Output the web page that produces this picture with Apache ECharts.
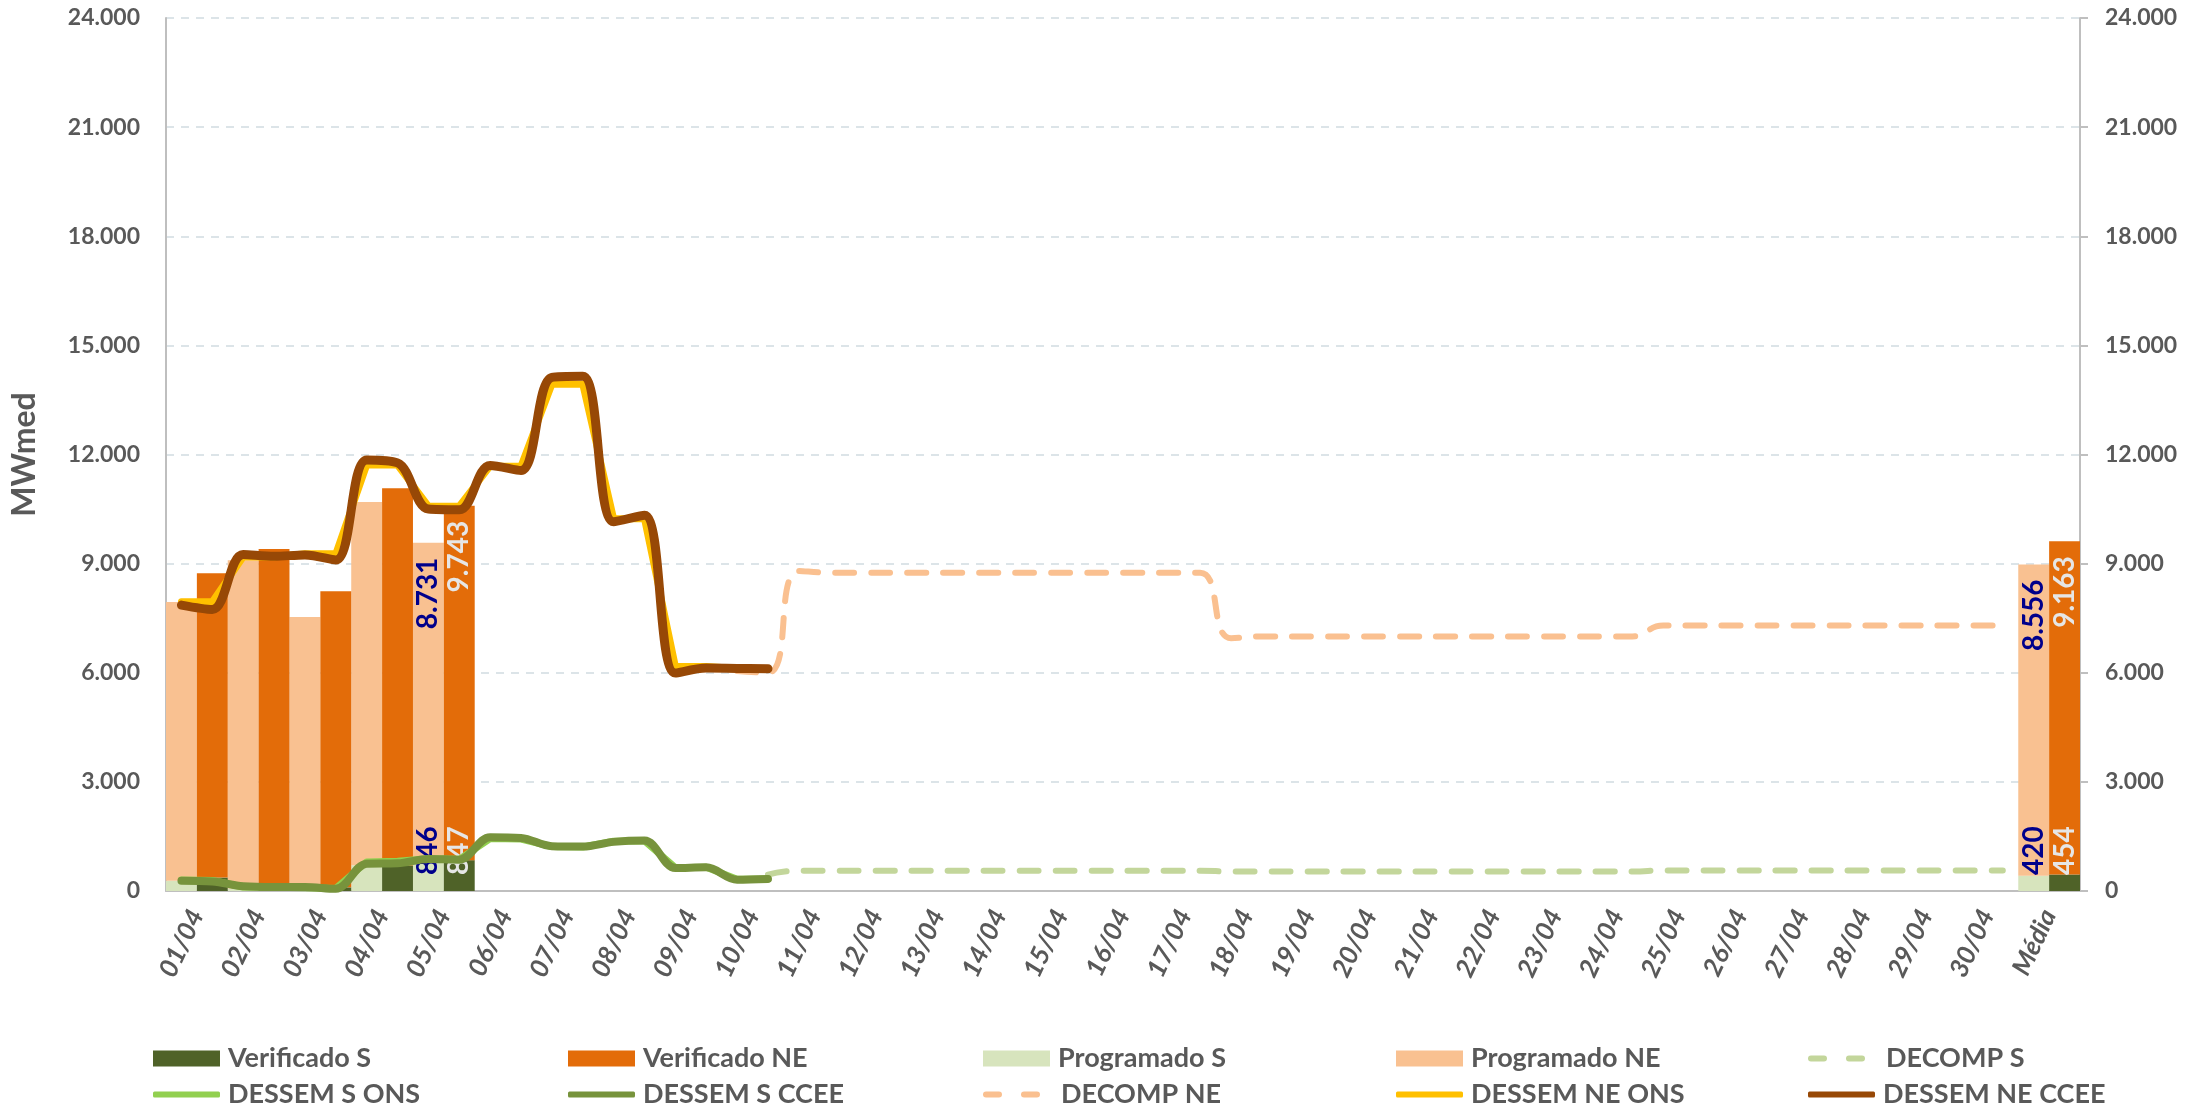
<!DOCTYPE html>
<html>
<head>
<meta charset="utf-8">
<script src="https://cdn.jsdelivr.net/npm/echarts@6/dist/echarts.min.js"></script>
<style>html,body{margin:0;padding:0;background:#fff}#c{width:2204px;height:1108px}</style>
</head>
<body>
<div id="c"></div>
<script>
// ---------- DATA ----------
const categories = ['01/04','02/04','03/04','04/04','05/04','06/04','07/04','08/04','09/04','10/04',
  '11/04','12/04','13/04','14/04','15/04','16/04','17/04','18/04','19/04','20/04',
  '21/04','22/04','23/04','24/04','25/04','26/04','27/04','28/04','29/04','30/04','Média'];

// stacked bars (S at base, NE on top)
const programadoS  = [280, 70, 50, 710, 846, null,null,null,null,null,null,null,null,null,null,null,null,null,null,null,null,null,null,null,null,null,null,null,null,null, 420];
const programadoNE = [7665, 9021, 7483, 9984, 8731, null,null,null,null,null,null,null,null,null,null,null,null,null,null,null,null,null,null,null,null,null,null,null,null,null, 8556];
const verificadoS  = [370, 80, 100, 700, 847, null,null,null,null,null,null,null,null,null,null,null,null,null,null,null,null,null,null,null,null,null,null,null,null,null, 454];
const verificadoNE = [8364, 9322, 8139, 10370, 9743, null,null,null,null,null,null,null,null,null,null,null,null,null,null,null,null,null,null,null,null,null,null,null,null,null, 9163];
const labeledCategories = ['05/04', 'Média'];

// lines: two readings per day (half-day slots), starting on 01/04
const dessemNE_ONS  = [7950,7950, 9180,9180, 9270,9270, 11710,11710, 10580,10580, 11680,11680, 13930,13930, 10235,10235, 6170,6170, 6120,6120];
const dessemNE_CCEE = [7860,7740, 9250,9200, 9240,9100, 11850,11770, 10500,10480, 11700,11560, 14120,14150, 10150,10330, 5990,6130, 6120,6110];
const dessemS_ONS   = [300,290, 110,100, 90,70, 800,820, 890,870, 1440,1430, 1220,1210, 1370,1380, 640,650, 320,330];
const dessemS_CCEE  = [280,260, 130,110, 110,60, 750,760, 880,860, 1480,1460, 1230,1220, 1350,1390, 630,650, 310,330];
// DECOMP lines: half-day slots; DECOMP NE starts on 10/04 (first slot), DECOMP S on 10/04 (second slot)
const decompNE = [6050,6000,
  8800,8750, 8750,8750, 8750,8750, 8750,8750, 8750,8750, 8750,8750, 8750,8750,
  6950,7000, 7000,7000, 7000,7000, 7000,7000, 7000,7000, 7000,7000, 7000,7000,
  7300,7300, 7300,7300, 7300,7300, 7300,7300, 7300,7300, 7300,7300];
const decompS = [450,
  560,560, 560,560, 560,560, 560,560, 560,560, 560,560, 560,560,
  535,535, 535,535, 535,535, 535,535, 535,535, 535,535, 535,535,
  565,565, 565,565, 565,565, 565,565, 565,565, 565,565];
const decompNEStartSlot = 18;
const decompSStartSlot = 19;

// ---------- HELPERS ----------
const halfSlots = categories.flatMap(c => [c + ' a', c + ' b']);
function pad(arr, start) {
  const out = new Array(halfSlots.length).fill(null);
  arr.forEach((v, i) => { out[start + i] = v; });
  return out;
}
function fmt(v) { return String(Math.round(v)).replace(/\B(?=(\d{3})+(?!\d))/g, '.'); }

const FONT = 'Lato, "Open Sans", sans-serif';
const GRAY = '#595959';
const C = {
  verS: '#4F6228', verNE: '#E36C09', progS: '#D7E4BD', progNE: '#F9C191',
  decS: '#C3D69B', dsOns: '#92D050', dsCcee: '#77933C', decNE: '#FAC090',
  dnOns: '#FFC000', dnCcee: '#974806'
};

function barLabel(color, pos, align, dist) {
  return {
    show: true, position: pos, rotate: 90, align: align, verticalAlign: 'middle',
    distance: dist, color: color, fontFamily: FONT, fontWeight: 'bold', fontSize: 28,
    formatter: p => labeledCategories.includes(categories[p.dataIndex]) && p.value != null ? fmt(p.value) : ''
  };
}
function barSeries(name, data, stack, color, label) {
  return { name, type: 'bar', stack, data, xAxisIndex: 0, yAxisIndex: 0,
    itemStyle: { color }, barGap: '0%', barCategoryGap: '0%', label, z: 2 };
}
function lineSeries(name, data, color, width, opts) {
  return Object.assign({ name, type: 'line', data, xAxisIndex: 1, yAxisIndex: 0,
    showSymbol: false, symbol: 'none', connectNulls: false,
    lineStyle: { color, width, cap: 'round', join: 'round' }, itemStyle: { color }, z: 3 }, opts || {});
}

const series = [
  barSeries('Programado S', programadoS, 'prog', C.progS, barLabel('#00008B', 'insideBottom', 'left', 16)),
  barSeries('Programado NE', programadoNE, 'prog', C.progNE, barLabel('#00008B', 'insideTop', 'right', 15)),
  barSeries('Verificado S', verificadoS, 'verif', C.verS, barLabel('#E6E6E6', 'insideBottom', 'left', 16)),
  barSeries('Verificado NE', verificadoNE, 'verif', C.verNE, barLabel('#E6E6E6', 'insideTop', 'right', 15)),
  lineSeries('DECOMP S', pad(decompS, decompSStartSlot), C.decS, 6, { smooth: 0.5, lineStyle: { color: C.decS, width: 6, type: [19, 17], cap: 'round' } }),
  lineSeries('DECOMP NE', pad(decompNE, decompNEStartSlot), C.decNE, 6, { smooth: 0.5, lineStyle: { color: C.decNE, width: 6, type: [19, 17], cap: 'round' } }),
  lineSeries('DESSEM S ONS', pad(dessemS_ONS, 0), C.dsOns, 7),
  lineSeries('DESSEM S CCEE', pad(dessemS_CCEE, 0), C.dsCcee, 8, { smooth: 0.35 }),
  lineSeries('DESSEM NE ONS', pad(dessemNE_ONS, 0), C.dnOns, 7),
  lineSeries('DESSEM NE CCEE', pad(dessemNE_CCEE, 0), C.dnCcee, 9, { smooth: 0.35 })
];

// legend layout: 5 columns x 2 rows
const legendRows = [
  ['Verificado S', 'Verificado NE', 'Programado S', 'Programado NE', 'DECOMP S'],
  ['DESSEM S ONS', 'DESSEM S CCEE', 'DECOMP NE', 'DESSEM NE ONS', 'DESSEM NE CCEE']
];
const barNames = ['Verificado S', 'Verificado NE', 'Programado S', 'Programado NE'];
const dashedNames = ['DECOMP S', 'DECOMP NE'];
const DASH_ICON = 'path://M3,0H16A3,3 0 0 1 16,6H3A3,3 0 0 1 3,0Z M41,0H54A3,3 0 0 1 54,6H41A3,3 0 0 1 41,0Z';
const legendColX = [153, 568, 983, 1396, 1808];
const legendRowY = [1045, 1081];
const legends = [];
legendRows.forEach((row, r) => row.forEach((name, c) => {
  let icon = 'roundRect', w = 67, h = 6, padL = 3;
  if (barNames.includes(name)) { icon = 'rect'; h = 16; }
  if (dashedNames.includes(name)) { icon = DASH_ICON; w = 57; padL = 16; }
  legends.push({
    data: [{ name, icon }],
    left: legendColX[c], top: legendRowY[r], padding: 0,
    itemWidth: w, itemHeight: h, selectedMode: false,
    itemStyle: { borderWidth: 0 },
    textStyle: { fontFamily: FONT, fontWeight: 'bold', fontSize: 27, color: GRAY, padding: [0, 0, 0, padL] }
  });
}));

const yLabel = { fontFamily: FONT, fontWeight: 'bold', fontSize: 23, color: GRAY, formatter: v => fmt(v) };

const option = {
  backgroundColor: '#fff',
  animation: false,
  grid: { left: 166, right: 124, top: 18, bottom: 217, containLabel: false, outerBoundsMode: 'none' },
  legend: legends,
  xAxis: [
    { type: 'category', data: categories, boundaryGap: true,
      axisLine: { show: true, lineStyle: { color: '#BFBFBF', width: 2 } },
      axisTick: { show: false },
      axisLabel: { interval: 0, rotate: 65, margin: 20, fontFamily: FONT, fontWeight: 'bold', fontStyle: 'italic', fontSize: 26, color: GRAY },
      splitLine: { show: false } },
    { type: 'category', data: halfSlots, boundaryGap: true, show: false, gridIndex: 0 }
  ],
  yAxis: [
    { type: 'value', min: 0, max: 24000, interval: 3000, position: 'left',
      name: 'MWmed', nameLocation: 'middle', nameGap: 125, nameRotate: 90,
      nameTextStyle: { fontFamily: FONT, fontWeight: 'bold', fontSize: 32, color: GRAY },
      axisLine: { show: true, lineStyle: { color: '#BFBFBF', width: 2 } },
      axisTick: { show: false },
      axisLabel: Object.assign({ margin: 26 }, yLabel),
      splitLine: { show: true, lineStyle: { color: '#DCE4E8', width: 2, type: [8, 7] } } },
    { type: 'value', min: 0, max: 24000, interval: 3000, position: 'right',
      axisLine: { show: true, lineStyle: { color: '#BFBFBF', width: 2 } },
      axisTick: { show: true, length: 8, lineStyle: { color: '#BFBFBF', width: 2 } },
      axisLabel: Object.assign({ margin: 25 }, yLabel),
      splitLine: { show: false } }
  ],
  series
};

const chart = echarts.init(document.getElementById('c'), null, { renderer: 'canvas', width: 2204, height: 1108 });
chart.setOption(option);
</script>
</body>
</html>
